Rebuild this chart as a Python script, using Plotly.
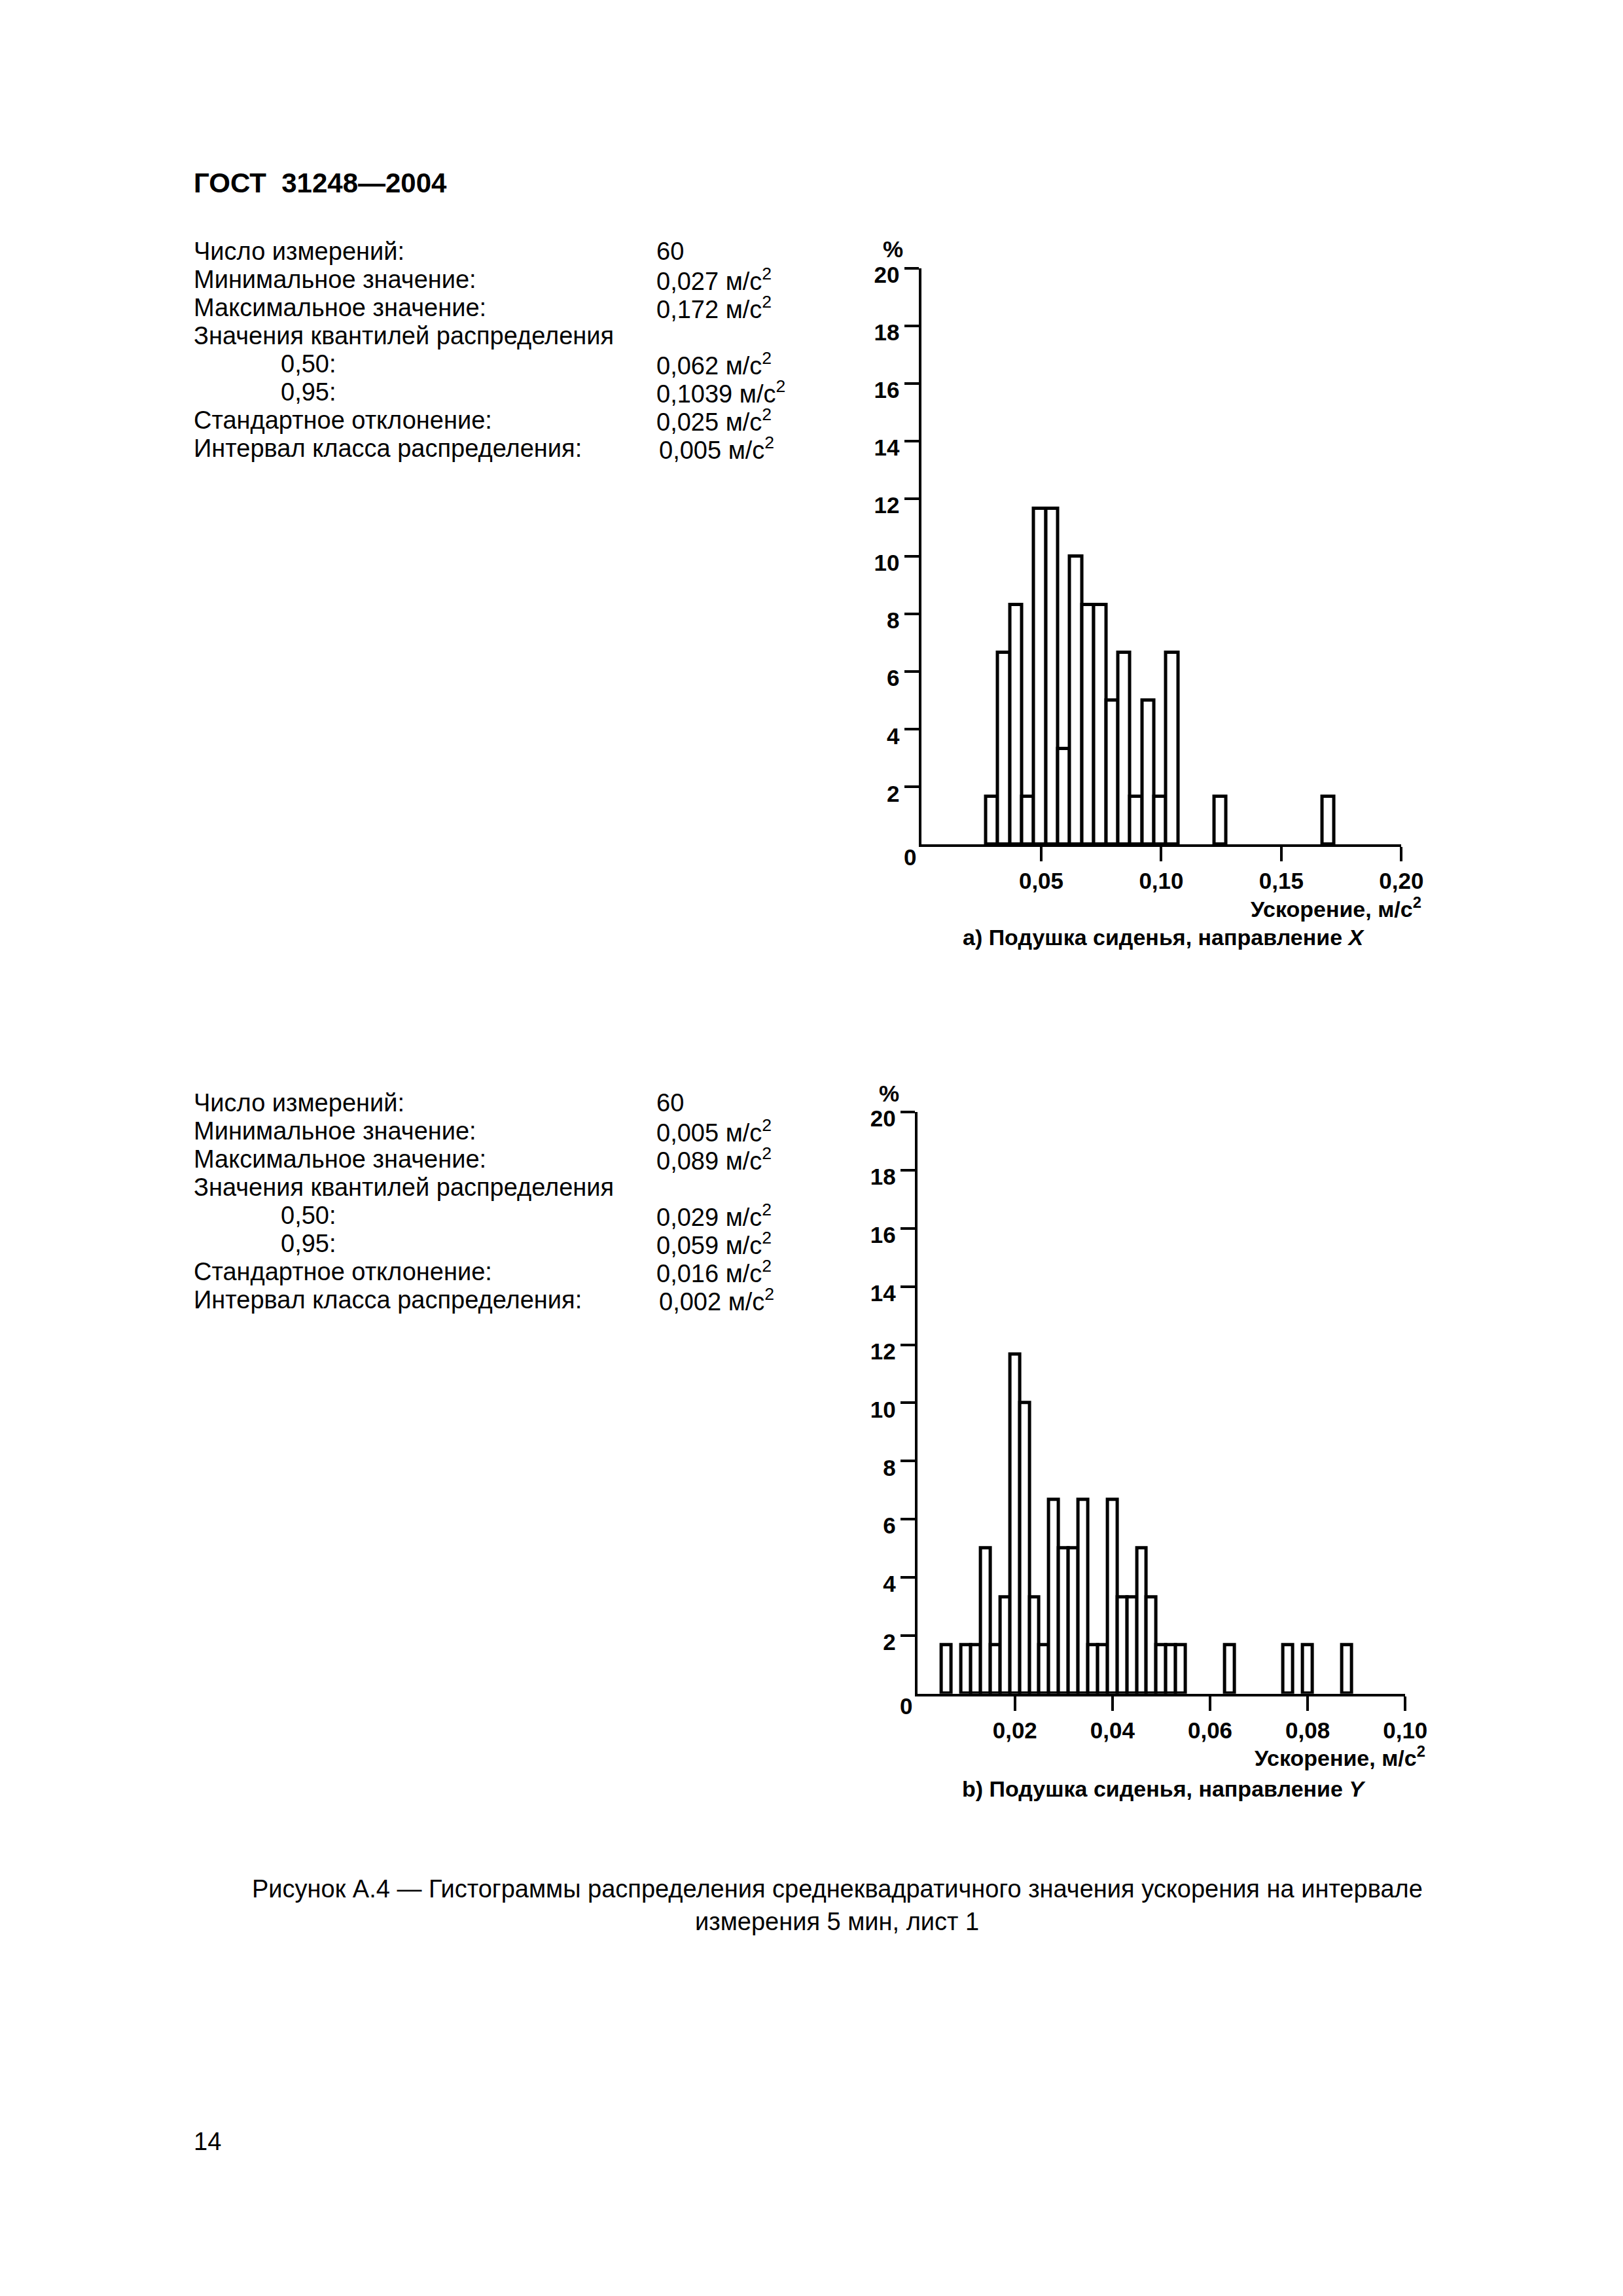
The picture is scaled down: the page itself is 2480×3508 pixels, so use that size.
import plotly.graph_objects as go

# ---------------- data ----------------
header_text = "ГОСТ\u00a0\u00a031248—2004"

stat_labels = [
    "Число измерений:",
    "Минимальное значение:",
    "Максимальное значение:",
    "Значения квантилей распределения",
    "0,50:",
    "0,95:",
    "Стандартное отклонение:",
    "Интервал класса распределения:",
]
stat_indent = [False, False, False, False, True, True, False, False]

a_stat_values = ["60", "0,027 м/с<sup>2</sup>", "0,172 м/с<sup>2</sup>", "",
                 "0,062 м/с<sup>2</sup>", "0,1039 м/с<sup>2</sup>",
                 "0,025 м/с<sup>2</sup>", "0,005 м/с<sup>2</sup>"]
b_stat_values = ["60", "0,005 м/с<sup>2</sup>", "0,089 м/с<sup>2</sup>", "",
                 "0,029 м/с<sup>2</sup>", "0,059 м/с<sup>2</sup>",
                 "0,016 м/с<sup>2</sup>", "0,002 м/с<sup>2</sup>"]

# histogram a) (class interval 0.005 m/s^2)
a_bin_width = 0.005
a_bin_left = [0.027, 0.032, 0.037, 0.042, 0.047, 0.052, 0.057, 0.062, 0.067,
              0.072, 0.077, 0.082, 0.087, 0.092, 0.097, 0.102, 0.122, 0.167]
a_percent = [1.67, 6.67, 8.33, 1.67, 11.67, 11.67, 3.33, 10.0, 8.33,
             8.33, 5.0, 6.67, 1.67, 5.0, 1.67, 6.67, 1.67, 1.67]

# histogram b) (class interval 0.002 m/s^2)
b_bin_width = 0.002
b_bin_left = [0.005, 0.009, 0.011, 0.013, 0.015, 0.017, 0.019, 0.021, 0.023,
              0.025, 0.027, 0.029, 0.031, 0.033, 0.035, 0.037, 0.039, 0.041,
              0.043, 0.045, 0.047, 0.049, 0.051, 0.053, 0.063, 0.075, 0.079, 0.087]
b_percent = [1.67, 1.67, 1.67, 5.0, 1.67, 3.33, 11.67, 10.0, 3.33,
             1.67, 6.67, 5.0, 5.0, 6.67, 1.67, 1.67, 6.67, 3.33,
             3.33, 5.0, 3.33, 1.67, 1.67, 1.67, 1.67, 1.67, 1.67, 1.67]

y_ticks = [2, 4, 6, 8, 10, 12, 14, 16, 18, 20]
a_x_ticks = [0.05, 0.10, 0.15, 0.20]
a_x_ticktext = ["0,05", "0,10", "0,15", "0,20"]
b_x_ticks = [0.02, 0.04, 0.06, 0.08, 0.10]
b_x_ticktext = ["0,02", "0,04", "0,06", "0,08", "0,10"]

x_title = "Ускорение, м/с<sup>2</sup>"
caption_a = "а) Подушка сиденья, направление <i>X</i>"
caption_b = "b) Подушка сиденья, направление <i>Y</i>"
figure_caption = ["Рисунок А.4 — Гистограммы распределения среднеквадратичного значения ускорения на интервале",
                  "измерения 5 мин, лист 1"]
page_number = "14"

# ---------------- layout helpers ----------------
W, H = 2480, 3508
OFF = 8  # compensate default page body margin
FONT = "Liberation Sans, Arial, sans-serif"


def px(x):
    return (x - OFF) / W


def py(y):
    return 1 - (y - OFF) / H


fig = go.Figure()

bar_style = dict(color="white", line=dict(color="black", width=5))
fig.add_trace(go.Bar(x=a_bin_left, y=a_percent, width=a_bin_width, offset=0,
                     marker=bar_style, xaxis="x", yaxis="y", showlegend=False,
                     hoverinfo="skip"))
fig.add_trace(go.Bar(x=b_bin_left, y=b_percent, width=b_bin_width, offset=0,
                     marker=bar_style, xaxis="x2", yaxis="y2", showlegend=False,
                     hoverinfo="skip"))

A_X0, A_X1, A_TOP, A_BASE = 1427, 2171, 401, 1284
B_X0, B_X1, B_TOP, B_BASE = 1421, 2177, 1694, 2585

tickfont = dict(family=FONT, size=35, color="black", weight="bold")
axis_common = dict(showline=True, linecolor="black", linewidth=4, ticks="outside",
                   ticklen=22, tickwidth=4, tickcolor="black", showgrid=False,
                   zeroline=False, tickfont=tickfont, fixedrange=True)

fig.update_layout(
    width=W, height=H, margin=dict(l=0, r=0, t=0, b=0),
    paper_bgcolor="white", plot_bgcolor="white", bargap=0,
    xaxis=dict(domain=[px(A_X0), px(A_X1)], range=[0, 0.20], anchor="y",
               tickvals=a_x_ticks, ticktext=a_x_ticktext, **axis_common),
    yaxis=dict(domain=[py(A_BASE), py(A_TOP)], range=[0, 20], anchor="x",
               tickvals=y_ticks, ticktext=[str(t) for t in y_ticks],
               ticklabelshift=10, **axis_common),
    xaxis2=dict(domain=[px(B_X0), px(B_X1)], range=[0, 0.10], anchor="y2",
                tickvals=b_x_ticks, ticktext=b_x_ticktext, **axis_common),
    yaxis2=dict(domain=[py(B_BASE), py(B_TOP)], range=[0, 20], anchor="x2",
                tickvals=y_ticks, ticktext=[str(t) for t in y_ticks],
                ticklabelshift=10, **axis_common),
)

ann = []


def text(x, y, s, size=38, bold=False, xanchor="left", yanchor="middle", align="left"):
    ann.append(dict(x=px(x), y=py(y), xref="paper", yref="paper", text=s,
                    showarrow=False, xanchor=xanchor, yanchor=yanchor, align=align,
                    font=dict(family=FONT, size=size, color="black",
                              weight="bold" if bold else "normal")))


# header
text(298, 270, header_text, size=42, bold=True)

# stats blocks
a_rows = [375.0, 418.1, 461.2, 504.3, 547.4, 590.5, 633.6, 676.7]
shift_b = 1305
for i, lab in enumerate(stat_labels):
    lx = 433 if stat_indent[i] else 298
    text(lx, a_rows[i], lab)
    text(lx, a_rows[i] + shift_b, lab)
    vx = 1019 if i == 7 else 1015
    if a_stat_values[i]:
        text(vx, a_rows[i], a_stat_values[i])
    if b_stat_values[i]:
        text(vx, a_rows[i] + shift_b, b_stat_values[i])

# chart decorations
for x0, x1, base, top, cap, cap_y in [(A_X0, A_X1, A_BASE, A_TOP, caption_a, 1426),
                                      (B_X0, B_X1, B_BASE, B_TOP, caption_b, 2731)]:
    text(x0 - 44, top - 29, "%", size=35, bold=True, xanchor="center")
    text(x0 - 17, base + 19, "0", size=35, bold=True, xanchor="center")
    text(x1 + 33, base + 96, x_title, size=34, bold=True, xanchor="right")
    text(1803, cap_y, cap, size=34, bold=True, xanchor="center")

# figure caption
text(1297, 2884, figure_caption[0], size=38, xanchor="center")
text(1297, 2934, figure_caption[1], size=38, xanchor="center")

# page number
text(298, 3271, page_number, size=38)

fig.update_layout(annotations=ann)
fig.write_html("out.html")
